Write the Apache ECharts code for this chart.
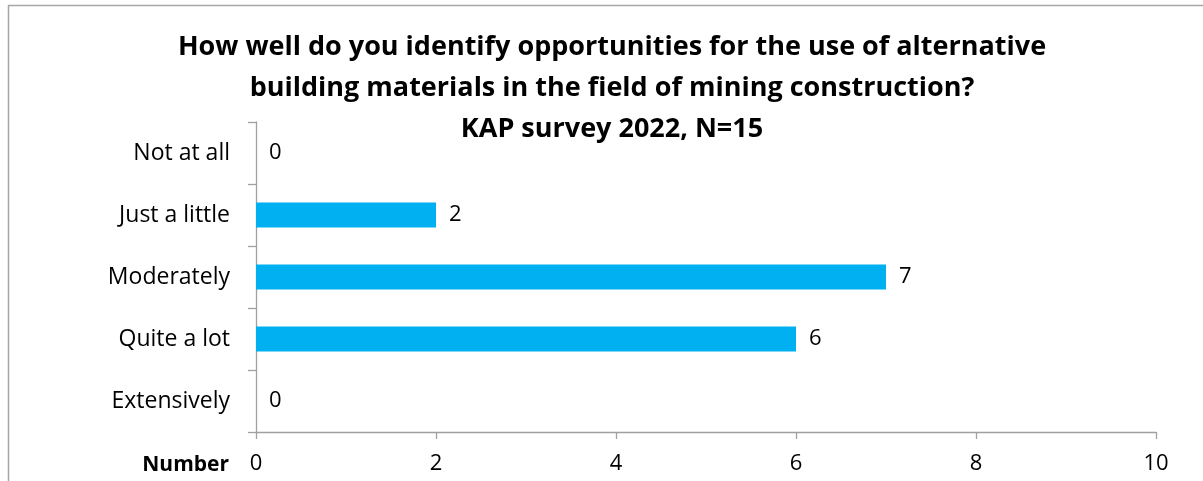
<!DOCTYPE html>
<html>
<head>
<meta charset="utf-8">
<script src="https://cdn.jsdelivr.net/npm/echarts@6/dist/echarts.min.js"></script>
<style>
  html, body { margin: 0; padding: 0; background: #ffffff; }
  #chart { width: 1203px; height: 481px; }
</style>
</head>
<body>
<div id="chart"></div>
<script>
// Survey answers and counts (top to bottom)
const categories = ['Not at all', 'Just a little', 'Moderately', 'Quite a lot', 'Extensively'];
const counts = [0, 2, 7, 6, 0];
const xTicks = [0, 2, 4, 6, 8, 10];

const titleLines = [
  'How well do you identify opportunities for the use of alternative',
  'building materials in the field of mining construction?',
  'KAP survey 2022, N=15'
];

const FONT = '"Open Sans", "Noto Sans", sans-serif';
const AXIS_GRAY = '#a0a0a0';

const chart = echarts.init(document.getElementById('chart'), null, { renderer: 'canvas' });

chart.setOption({
  backgroundColor: '#ffffff',
  animation: false,
  title: {
    text: titleLines.join('\n'),
    left: 607,
    top: 22,
    textAlign: 'center',
    textStyle: {
      fontFamily: FONT,
      fontWeight: 'bold',
      fontSize: 27,
      lineHeight: 41,
      color: '#000000'
    }
  },
  graphic: [
    {
      type: 'rect',
      shape: { x: 8.5, y: 5.5, width: 1300, height: 600 },
      style: { fill: 'none', stroke: '#a6a6a6', lineWidth: 1.5 },
      silent: true
    },
    {
      type: 'text',
      style: {
        text: 'Number',
        x: 229,
        y: 465,
        textAlign: 'right',
        textVerticalAlign: 'middle',
        fontFamily: FONT,
        fontWeight: 'bold',
        fontSize: 21,
        fill: '#000000'
      }
    }
  ],
  grid: { left: 256, right: 47, top: 122, bottom: 49, containLabel: false },
  xAxis: {
    type: 'value',
    min: xTicks[0],
    max: xTicks[xTicks.length - 1],
    interval: 2,
    splitLine: { show: false },
    axisLine: { show: true, lineStyle: { color: AXIS_GRAY, width: 1.3 } },
    axisTick: { show: true, length: 7, lineStyle: { color: AXIS_GRAY, width: 1.3 } },
    axisLabel: {
      margin: 21,
      fontFamily: FONT,
      fontSize: 22,
      color: '#000000',
      formatter: v => (xTicks.includes(v) ? String(v) : '')
    }
  },
  yAxis: {
    type: 'category',
    data: categories,
    inverse: true,
    boundaryGap: true,
    axisLine: { show: true, lineStyle: { color: AXIS_GRAY, width: 1.3 } },
    axisTick: { show: true, length: 8, alignWithLabel: false, lineStyle: { color: AXIS_GRAY, width: 1.3 } },
    axisLabel: {
      margin: 26,
      fontFamily: FONT,
      fontSize: 23,
      color: '#000000'
    }
  },
  series: [
    {
      type: 'bar',
      data: counts,
      barWidth: 25,
      itemStyle: { color: '#00b0f0' },
      label: {
        show: true,
        position: 'right',
        distance: 13,
        fontFamily: FONT,
        fontSize: 22,
        color: '#000000'
      }
    }
  ]
});
</script>
</body>
</html>
